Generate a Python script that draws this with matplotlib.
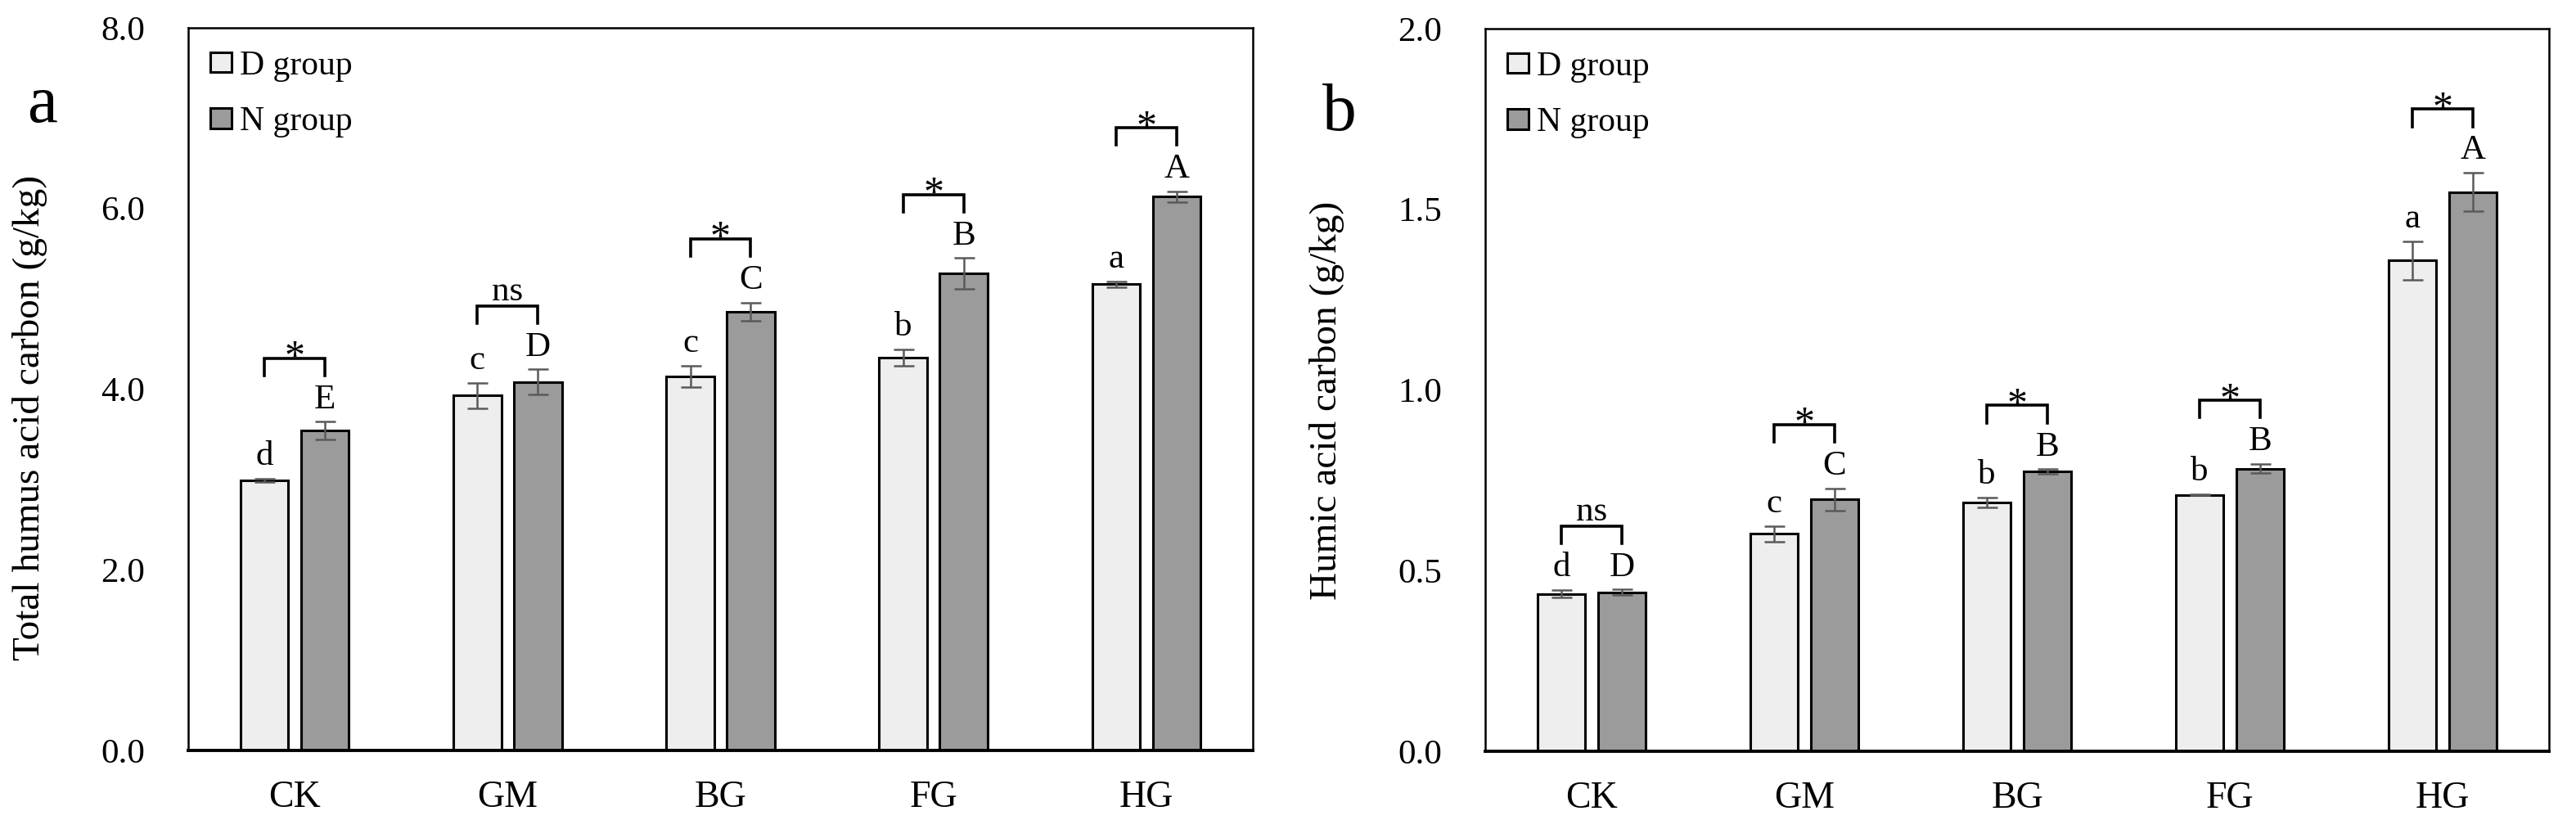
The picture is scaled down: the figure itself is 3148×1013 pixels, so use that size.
import numpy as np
import matplotlib
matplotlib.use("Agg")
import matplotlib.pyplot as plt

plt.rcParams['font.family'] = ['Liberation Serif', 'DejaVu Serif']

# Data

groups = ["CK", "GM", "BG", "FG", "HG"]
legend_labels = ["D group", "N group"]

total_d = [2.99, 3.93, 4.14, 4.35, 5.16]
total_d_err = [0.02, 0.14, 0.12, 0.09, 0.03]
total_n = [3.54, 4.08, 4.86, 5.28, 6.13]
total_n_err = [0.10, 0.14, 0.10, 0.17, 0.06]
total_d_letters = ["d", "c", "c", "b", "a"]
total_n_letters = ["E", "D", "C", "B", "A"]
total_sig = ["*", "ns", "*", "*", "*"]

humic_d = [0.436, 0.602, 0.689, 0.710, 1.358]
humic_d_err = [0.010, 0.022, 0.014, 0.002, 0.053]
humic_n = [0.440, 0.697, 0.774, 0.782, 1.548]
humic_n_err = [0.008, 0.031, 0.007, 0.013, 0.053]
humic_d_letters = ["d", "c", "b", "b", "a"]
humic_n_letters = ["D", "C", "B", "B", "A"]
humic_sig = ["ns", "*", "*", "*", "*"]

D_COLOR = "#eeeeee"
N_COLOR = "#9b9b9b"
ERR_COLOR = "#5a5a5a"
WIDTH = 0.225
OFF = 0.142


def draw_panel(ax, d, de, n, ne, dl, nl, sig, ymax, ylabel, panel, lab_y, panel_y):
    x = np.arange(len(groups))
    bd = ax.bar(x - OFF, d, WIDTH, color=D_COLOR, edgecolor="black", linewidth=2.2,
                label=legend_labels[0], zorder=2)
    bn = ax.bar(x + OFF, n, WIDTH, color=N_COLOR, edgecolor="black", linewidth=2.2,
                label=legend_labels[1], zorder=2)
    ax.errorbar(x - OFF, d, yerr=de, fmt="none", ecolor=ERR_COLOR, elinewidth=1.8,
                capsize=9, capthick=1.8, zorder=3)
    ax.errorbar(x + OFF, n, yerr=ne, fmt="none", ecolor=ERR_COLOR, elinewidth=1.8,
                capsize=9, capthick=1.8, zorder=3)

    # letters over bars
    for i in range(len(groups)):
        ax.annotate(dl[i], xy=(x[i] - OFF, d[i] + de[i]), xytext=(0, 12),
                    textcoords="offset points", ha="center", va="baseline", fontsize=31)
        ax.annotate(nl[i], xy=(x[i] + OFF, n[i] + ne[i]), xytext=(0, 12),
                    textcoords="offset points", ha="center", va="baseline", fontsize=31)

    # brackets between D and N
    for i in range(len(groups)):
        top = max(d[i] + de[i], n[i] + ne[i]) + 0.088 * ymax
        leg = 0.024 * ymax
        ax.plot([x[i] - OFF, x[i] - OFF, x[i] + OFF, x[i] + OFF],
                [top - leg, top, top, top - leg], color="black", linewidth=2.6,
                solid_joinstyle="miter", zorder=3)
        if sig[i] == "*":
            ax.annotate("*", xy=(x[i], top), xytext=(0, -9), textcoords="offset points",
                        ha="center", va="baseline", fontsize=36)
        else:
            ax.annotate(sig[i], xy=(x[i], top), xytext=(0, 5), textcoords="offset points",
                        ha="center", va="baseline", fontsize=31)

    ax.set_xlim(-0.5, len(groups) - 0.5)
    ax.set_ylim(0, ymax)
    ax.set_yticks(np.linspace(0, ymax, 5))
    ax.set_yticklabels(["%.1f" % v for v in np.linspace(0, ymax, 5)])
    ax.set_xticks(x)
    ax.set_xticklabels(groups)
    ax.tick_params(axis="y", length=0, pad=38, labelsize=31)
    ax.tick_params(axis="x", length=0, pad=26, labelsize=33)
    for s in ["left", "top", "right"]:
        ax.spines[s].set_linewidth(1.8)
    ax.spines["bottom"].set_linewidth(2.8)

    ax.set_ylabel(ylabel, fontsize=34)
    ax.yaxis.set_label_coords(-0.149, lab_y)
    ax.yaxis.label.set_verticalalignment("center")

    ax.legend(handles=[bd, bn], loc="upper left", bbox_to_anchor=(0.0, 1.0),
              frameon=False, fontsize=30, handlelength=0.62, handleheight=0.53,
              handletextpad=0.25, labelspacing=0.72, borderaxespad=0.55, borderpad=0.1)

    ax.text(-0.137, panel_y, panel, transform=ax.transAxes, fontsize=60,
            ha="center", va="baseline")


fig = plt.figure(figsize=(31.48, 10.13), dpi=100)
ax1 = fig.add_axes([0.07306, 0.09477, 0.41328, 0.87167])
ax2 = fig.add_axes([0.57656, 0.09378, 0.41296, 0.87167])

draw_panel(ax1, total_d, total_d_err, total_n, total_n_err, total_d_letters,
           total_n_letters, total_sig, 8.0, "Total humus acid carbon (g/kg)", "a", 0.46, 0.87)
draw_panel(ax2, humic_d, humic_d_err, humic_n, humic_n_err, humic_d_letters,
           humic_n_letters, humic_sig, 2.0, "Humic acid carbon (g/kg)", "b", 0.485, 0.86)

fig.savefig("out.png", dpi=100)
